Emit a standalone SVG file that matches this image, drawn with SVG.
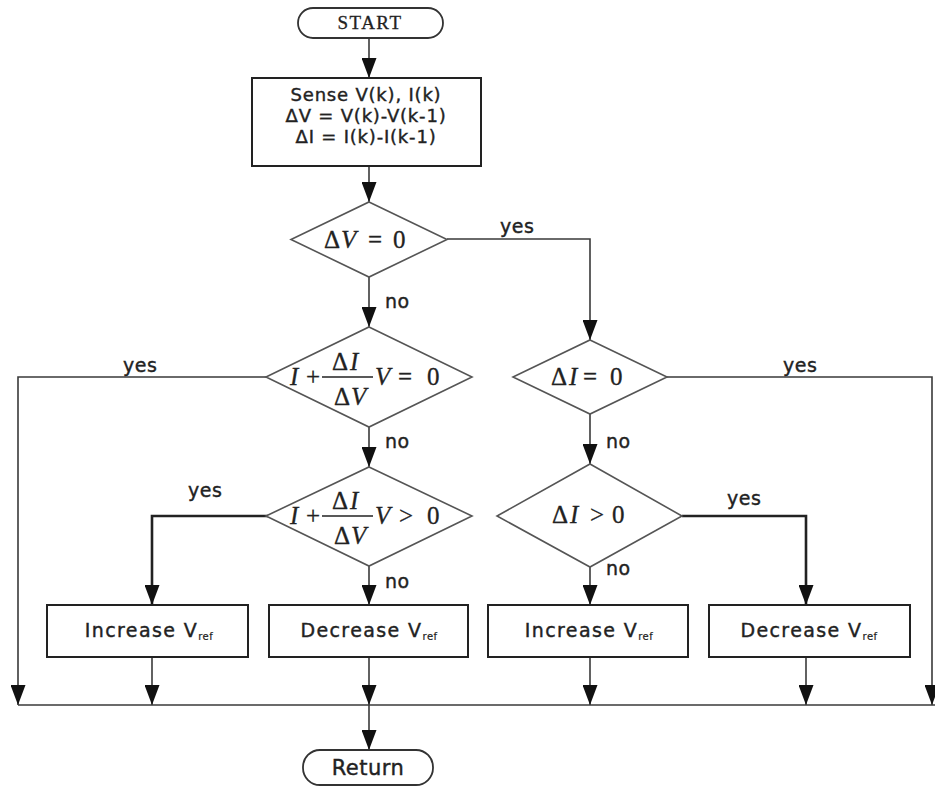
<svg xmlns="http://www.w3.org/2000/svg" width="935" height="787" viewBox="0 0 935 787">
  <style>
    .term { fill: #fff; stroke: #333; stroke-width: 1.8; }
    .box { fill: #fff; stroke: #222; stroke-width: 2; }
    .dia { fill: #fff; stroke: #555; stroke-width: 1.6; }
    .wire { fill: none; stroke: #3a3a3a; stroke-width: 1.6; }
    .bold { stroke-width: 2.6; stroke: #222; }
    .sans { font-family: "DejaVu Sans", "Liberation Sans", sans-serif; fill: #222; stroke: #222; stroke-width: 0.4; }
    .lbl { font-size: 19px; letter-spacing: 0.5px; }
    .blk { font-size: 18px; letter-spacing: 0.8px; }
    .act { font-size: 19px; letter-spacing: 1.4px; }
    .sub { font-size: 10px; letter-spacing: 0.5px; stroke-width: 0.2; }
    .math { font-family: "Liberation Serif", "Times New Roman", serif; font-size: 25px; fill: #222; stroke: #222; stroke-width: 0.3; }
    .it { font-style: italic; }
  </style>
  <defs>
    <marker id="arr" viewBox="0 0 20 15" refX="20" refY="7.5" markerWidth="20" markerHeight="15" markerUnits="userSpaceOnUse" orient="auto">
      <path d="M0,0 L20,7.5 L0,15 z" fill="#111"/>
    </marker>
  </defs>

  <rect width="935" height="787" fill="#fff"/>

  <!-- connectors -->
  <g id="connectors">
    <line class="wire" x1="369" y1="38" x2="369" y2="78" marker-end="url(#arr)"/>
    <line class="wire" x1="369" y1="166" x2="369" y2="202" marker-end="url(#arr)"/>
    <line class="wire" x1="369" y1="277" x2="369" y2="327" marker-end="url(#arr)"/>
    <polyline class="wire" points="447,239 590,239 590,340" marker-end="url(#arr)"/>
    <polyline class="wire" points="266,377 18,377 18,705" marker-end="url(#arr)"/>
    <line class="wire" x1="369" y1="427" x2="369" y2="467" marker-end="url(#arr)"/>
    <polyline class="wire bold" points="268,516 152,516 152,605" marker-end="url(#arr)"/>
    <line class="wire" x1="369" y1="566" x2="369" y2="605" marker-end="url(#arr)"/>
    <polyline class="wire" points="667,377 932,377 932,705" marker-end="url(#arr)"/>
    <line class="wire" x1="590" y1="414" x2="590" y2="464" marker-end="url(#arr)"/>
    <polyline class="wire bold" points="682,516 806,516 806,605" marker-end="url(#arr)"/>
    <line class="wire" x1="590" y1="567" x2="590" y2="605" marker-end="url(#arr)"/>
    <line class="wire" x1="152" y1="657" x2="152" y2="705" marker-end="url(#arr)"/>
    <line class="wire" x1="369" y1="657" x2="369" y2="705" marker-end="url(#arr)"/>
    <line class="wire" x1="590" y1="657" x2="590" y2="705" marker-end="url(#arr)"/>
    <line class="wire" x1="806" y1="657" x2="806" y2="705" marker-end="url(#arr)"/>
    <line class="wire" x1="18" y1="705" x2="935" y2="705"/>
    <line class="wire" x1="369" y1="705" x2="369" y2="750" marker-end="url(#arr)"/>

    <!-- branch labels -->
    <text class="sans lbl" x="500" y="233">yes</text>
    <text class="sans lbl" x="385" y="308">no</text>
    <text class="sans lbl" x="123" y="372">yes</text>
    <text class="sans lbl" x="385" y="448">no</text>
    <text class="sans lbl" x="188" y="497">yes</text>
    <text class="sans lbl" x="385" y="588">no</text>
    <text class="sans lbl" x="783" y="372">yes</text>
    <text class="sans lbl" x="606" y="448">no</text>
    <text class="sans lbl" x="727" y="505">yes</text>
    <text class="sans lbl" x="606" y="575">no</text>
  </g>

  <!-- start terminal -->
  <g id="start">
    <rect class="term" x="298" y="8" width="145" height="30" rx="15"/>
    <text x="370" y="29" text-anchor="middle" font-family="Liberation Serif, serif" font-size="19" fill="#222" stroke="#222" stroke-width="0.3" letter-spacing="1.5">START</text>
  </g>

  <!-- sensing block -->
  <g id="sense">
    <rect class="box" x="252" y="78" width="229" height="88"/>
    <text class="sans blk" x="366" y="101" text-anchor="middle">Sense V(k), I(k)</text>
    <text class="sans blk" x="366" y="122" text-anchor="middle">ΔV = V(k)-V(k-1)</text>
    <text class="sans blk" x="366" y="143" text-anchor="middle">ΔI = I(k)-I(k-1)</text>
  </g>

  <!-- dV = 0 -->
  <g id="dv-zero">
    <polygon class="dia" points="369,202 447,239.5 369,277 291,239.5"/>
    <text class="math" y="248"><tspan x="324">Δ</tspan><tspan class="it" x="341">V</tspan><tspan x="368">=</tspan><tspan x="393">0</tspan></text>
  </g>

  <!-- incremental conductance equal -->
  <g id="inc-eq">
    <polygon class="dia" points="369,327 472,377 369,427 266,377"/>
    <text class="math it" x="290" y="385">I</text>
    <text class="math" x="306" y="385">+</text>
    <line x1="322" y1="377" x2="373" y2="377" stroke="#222" stroke-width="1.4"/>
    <text class="math" y="370"><tspan x="332">Δ</tspan><tspan class="it" x="350">I</tspan></text>
    <text class="math" y="405"><tspan x="334">Δ</tspan><tspan class="it" x="351">V</tspan></text>
    <text class="math" y="385"><tspan class="it" x="375">V</tspan><tspan x="398">=</tspan><tspan x="427">0</tspan></text>
  </g>

  <!-- incremental conductance greater -->
  <g id="inc-gt">
    <polygon class="dia" points="369,467 472,516 369,566 266,516"/>
    <text class="math it" x="290" y="524">I</text>
    <text class="math" x="306" y="524">+</text>
    <line x1="322" y1="516" x2="373" y2="516" stroke="#222" stroke-width="1.4"/>
    <text class="math" y="509"><tspan x="332">Δ</tspan><tspan class="it" x="350">I</tspan></text>
    <text class="math" y="544"><tspan x="334">Δ</tspan><tspan class="it" x="351">V</tspan></text>
    <text class="math" y="524"><tspan class="it" x="375">V</tspan><tspan x="399">&gt;</tspan><tspan x="427">0</tspan></text>
  </g>

  <!-- dI = 0 -->
  <g id="di-zero">
    <polygon class="dia" points="590,340 667,377 590,414 513,377"/>
    <text class="math" y="385"><tspan x="551">Δ</tspan><tspan class="it" x="569">I</tspan><tspan x="583">=</tspan><tspan x="610">0</tspan></text>
  </g>

  <!-- dI > 0 -->
  <g id="di-gt">
    <polygon class="dia" points="590,464 682,516 590,567 497,516"/>
    <text class="math" y="523"><tspan x="552">Δ</tspan><tspan class="it" x="570">I</tspan><tspan x="590">&gt;</tspan><tspan x="612">0</tspan></text>
  </g>

  <!-- reference adjustments -->
  <g id="inc-left">
    <rect class="box" x="47" y="605" width="201" height="52"/>
    <text class="sans act" x="149" y="637" text-anchor="middle">Increase V<tspan class="sub" dy="3">ref</tspan></text>
  </g>
  <g id="dec-left">
    <rect class="box" x="269" y="605" width="199" height="52"/>
    <text class="sans act" x="369" y="637" text-anchor="middle">Decrease V<tspan class="sub" dy="3">ref</tspan></text>
  </g>
  <g id="inc-right">
    <rect class="box" x="488" y="605" width="200" height="52"/>
    <text class="sans act" x="589" y="637" text-anchor="middle">Increase V<tspan class="sub" dy="3">ref</tspan></text>
  </g>
  <g id="dec-right">
    <rect class="box" x="709" y="605" width="201" height="52"/>
    <text class="sans act" x="809" y="637" text-anchor="middle">Decrease V<tspan class="sub" dy="3">ref</tspan></text>
  </g>

  <!-- return terminal -->
  <g id="return">
    <rect class="term" x="303" y="750" width="130" height="35" rx="17"/>
    <text class="sans" x="368" y="775" text-anchor="middle" font-size="21" letter-spacing="0.5">Return</text>
  </g>
</svg>
